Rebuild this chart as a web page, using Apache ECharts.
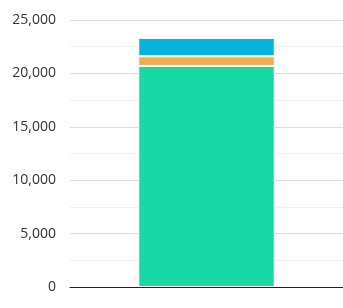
<!DOCTYPE html>
<html><head><meta charset="utf-8">
<script src="https://cdn.jsdelivr.net/npm/echarts@6/dist/echarts.min.js"></script>
<style>html,body{margin:0;padding:0;background:#fff}#c{width:343px;height:308px}</style>
</head><body><div id="c"></div>
<script>
const categories = [''];
const seriesNames = ['A', 'B', 'C'];
const greenValues = [20700];
const orangeValues = [900];
const blueValues = [1720];
const yTicks = [0, 5000, 10000, 15000, 20000, 25000];
const colors = ['#18D8A5', '#EFAE4A', '#06B2DC'];

const chart = echarts.init(document.getElementById('c'), null, {renderer: 'canvas'});
const values = [greenValues, orangeValues, blueValues];
chart.setOption({
  animation: false,
  grid: {left: 70, right: 0, top: 20, bottom: 21, containLabel: false},
  xAxis: {
    type: 'category', data: categories, z: 10,
    axisLine: {lineStyle: {color: '#222', width: 1}},
    axisTick: {show: false}, axisLabel: {show: false}
  },
  yAxis: {
    type: 'value', min: yTicks[0], max: yTicks[yTicks.length - 1], interval: 5000,
    axisLine: {show: false}, axisTick: {show: false},
    axisLabel: {
      color: '#333', fontSize: 14, fontFamily: 'Open Sans', margin: 14,
      formatter: v => v.toLocaleString('en-US')
    },
    splitLine: {lineStyle: {color: '#dcdcdc'}},
    minorTick: {show: false, splitNumber: 2},
    minorSplitLine: {show: true, lineStyle: {color: '#f0f0f0'}}
  },
  series: values.map((v, i) => ({
    name: seriesNames[i], type: 'bar', stack: 'total', data: v,
    barWidth: '50%',
    itemStyle: {color: colors[i], borderColor: '#fff', borderWidth: 1}
  }))
});
</script></body></html>
